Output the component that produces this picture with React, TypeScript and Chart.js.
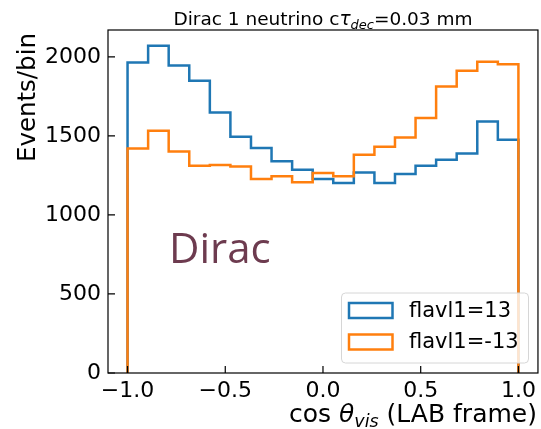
import React, { useEffect, useRef } from "react";
import { Chart, registerables } from "chart.js";

Chart.register(...registerables);

// 19 bins between -1 and 1
const binEdges = [
  -1, -0.8947, -0.7895, -0.6842, -0.5789, -0.4737, -0.3684, -0.2632, -0.1579, -0.0526,
  0.0526, 0.1579, 0.2632, 0.3684, 0.4737, 0.5789, 0.6842, 0.7895, 0.8947, 1,
];
const flavl1Plus13 = [
  1964, 2070, 1945, 1849, 1648, 1495, 1423, 1339, 1286, 1227, 1202, 1269, 1202, 1259, 1311,
  1349, 1389, 1591, 1476,
];
const flavl1Minus13 = [
  1421, 1533, 1402, 1311, 1316, 1307, 1227, 1244, 1206, 1265, 1244, 1380, 1431, 1490, 1613,
  1813, 1912, 1969, 1954,
];
const seriesLabels = ["flavl1=13", "flavl1=-13"];
const xTickValues = [-1.0, -0.5, 0.0, 0.5, 1.0];
const yTickValues = [0, 500, 1000, 1500, 2000];

const BLUE = "#1f77b4";
const ORANGE = "#ff7f0e";
const FONT = '"DejaVu Sans"';

function stepPoints(vals: number[]) {
  const last = binEdges.length - 1;
  const pts: { x: number; y: number }[] = [{ x: binEdges[0], y: 0 }];
  vals.forEach((v, i) => pts.push({ x: binEdges[i], y: v }));
  pts.push({ x: binEdges[last], y: vals[vals.length - 1] });
  pts.push({ x: binEdges[last], y: 0 });
  return pts;
}

type Run = { text: string; font: string; dy?: number };

function drawRuns(ctx: CanvasRenderingContext2D, runs: Run[], x: number, y: number, align: string) {
  let total = 0;
  const widths: number[] = [];
  for (const r of runs) {
    ctx.font = r.font;
    const w = ctx.measureText(r.text).width;
    widths.push(w);
    total += w;
  }
  let cx = align === "center" ? x - total / 2 : align === "right" ? x - total : x;
  ctx.textAlign = "left";
  ctx.textBaseline = "alphabetic";
  runs.forEach((r, i) => {
    ctx.font = r.font;
    ctx.fillText(r.text, cx, y + (r.dy || 0));
    cx += widths[i];
  });
}

const decorPlugin = {
  id: "decor",
  afterDraw(chart: any) {
    const ctx: CanvasRenderingContext2D = chart.ctx;
    const { left, right, top, bottom } = chart.chartArea;
    const xs = chart.scales.x;
    const ys = chart.scales.y;
    ctx.save();
    // frame
    ctx.strokeStyle = "#000";
    ctx.lineWidth = 1.2;
    ctx.strokeRect(left, top, right - left, bottom - top);
    // inward ticks
    ctx.beginPath();
    for (const v of yTickValues) {
      const p = ys.getPixelForValue(v);
      ctx.moveTo(left, p);
      ctx.lineTo(left + 7, p);
    }
    for (const v of xTickValues) {
      const p = xs.getPixelForValue(v);
      ctx.moveTo(p, bottom);
      ctx.lineTo(p, bottom - 7);
    }
    ctx.stroke();

    ctx.fillStyle = "#000";
    // title
    const cx = (left + right) / 2;
    drawRuns(
      ctx,
      [
        { text: "Dirac 1 neutrino c", font: `18.5px ${FONT}` },
        { text: "τ", font: `italic 18.5px ${FONT}` },
        { text: "dec", font: `italic 13px ${FONT}`, dy: 4 },
        { text: "=0.03 mm", font: `18.5px ${FONT}` },
      ],
      cx,
      24.5,
      "center"
    );
    // x label
    drawRuns(
      ctx,
      [
        { text: "cos ", font: `25px ${FONT}` },
        { text: "θ", font: `italic 25px ${FONT}` },
        { text: "vis", font: `italic 17.5px ${FONT}`, dy: 5 },
        { text: " (LAB frame)", font: `25px ${FONT}` },
      ],
      right - 1,
      421.5,
      "right"
    );
    // y label
    ctx.save();
    ctx.translate(35, top + 3);
    ctx.rotate(-Math.PI / 2);
    ctx.font = `24.5px ${FONT}`;
    ctx.textAlign = "right";
    ctx.textBaseline = "alphabetic";
    ctx.fillText("Events/bin", 0, 0);
    ctx.restore();

    // Dirac annotation
    ctx.fillStyle = "#6d3b4f";
    ctx.font = `42px "Open Sans"`;
    ctx.textAlign = "left";
    ctx.textBaseline = "alphabetic";
    ctx.fillText("Dirac", 169, 263);

    // legend
    const lx = 341.5, ly = 293, lw = 187, lh = 70;
    ctx.beginPath();
    const r = 4;
    ctx.moveTo(lx + r, ly);
    ctx.arcTo(lx + lw, ly, lx + lw, ly + lh, r);
    ctx.arcTo(lx + lw, ly + lh, lx, ly + lh, r);
    ctx.arcTo(lx, ly + lh, lx, ly, r);
    ctx.arcTo(lx, ly, lx + lw, ly, r);
    ctx.closePath();
    ctx.fillStyle = "rgba(255,255,255,0.8)";
    ctx.fill();
    ctx.strokeStyle = "#d6d6d6";
    ctx.lineWidth = 1;
    ctx.stroke();
    const colors = [BLUE, ORANGE];
    const rowY = [310.5, 342];
    seriesLabels.forEach((lab, i) => {
      ctx.strokeStyle = colors[i];
      ctx.lineWidth = 2.5;
      ctx.strokeRect(349, rowY[i] - 7.5, 43.5, 15);
      ctx.fillStyle = "#000";
      ctx.font = `21px ${FONT}`;
      ctx.textAlign = "left";
      ctx.textBaseline = "middle";
      ctx.fillText(lab, 409, rowY[i] + 1);
    });
    ctx.restore();
  },
};

const fmtX = (v: number) => v.toFixed(1).replace("-", "\u2212");

export default function App() {
  const ref = useRef<HTMLCanvasElement | null>(null);
  useEffect(() => {
    if (!ref.current) return;
    const chart = new Chart(ref.current, {
      type: "line",
      data: {
        datasets: [
          {
            label: seriesLabels[0],
            data: stepPoints(flavl1Plus13),
            borderColor: BLUE,
            borderWidth: 2.5,
            pointRadius: 0,
            fill: false,
            stepped: "before",
            order: 1,
          },
          {
            label: seriesLabels[1],
            data: stepPoints(flavl1Minus13),
            borderColor: ORANGE,
            borderWidth: 2.5,
            pointRadius: 0,
            fill: false,
            stepped: "before",
            order: 0,
          },
        ],
      },
      options: {
        animation: false,
        responsive: false,
        events: [],
        layout: { padding: { top: 30, right: 2, left: 0, bottom: 0 } },
        plugins: { legend: { display: false }, tooltip: { enabled: false }, title: { display: false } },
        scales: {
          x: {
            type: "linear",
            min: -1.1,
            max: 1.1,
            grid: { display: false, drawTicks: false },
            border: { display: false },
            afterBuildTicks: (s: any) => {
              s.ticks = xTickValues.map((v) => ({ value: v }));
            },
            afterFit: (s: any) => {
              s.height = 56;
            },
            ticks: {
              autoSkip: false,
              maxRotation: 0,
              padding: 5,
              color: "#000",
              font: { family: "DejaVu Sans", size: 22 },
              callback: (v: any) => fmtX(Number(v)),
            },
          },
          y: {
            type: "linear",
            min: 0,
            max: 2170,
            grid: { display: false, drawTicks: false },
            border: { display: false },
            afterBuildTicks: (s: any) => {
              s.ticks = yTickValues.map((v) => ({ value: v }));
            },
            afterFit: (s: any) => {
              s.width = 108;
            },
            ticks: {
              padding: 7,
              color: "#000",
              font: { family: "DejaVu Sans", size: 22 },
              callback: (v: any) => String(v),
            },
          },
        },
      },
      plugins: [decorPlugin],
    });
    return () => chart.destroy();
  }, []);
  return (
    <div style={{ position: "absolute", left: 0, top: 0, width: 541, height: 429, background: "#fff" }}>
      <canvas ref={ref} width={541} height={429} style={{ width: 541, height: 429 }} />
    </div>
  );
}
